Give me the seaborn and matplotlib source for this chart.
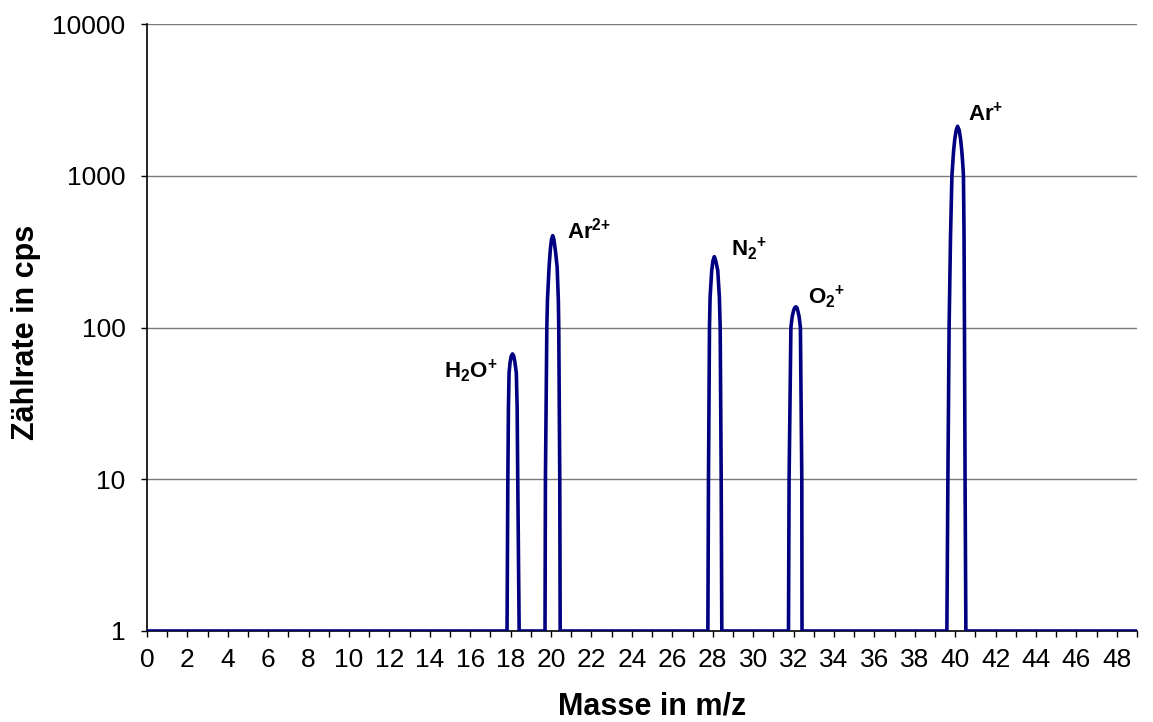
import matplotlib
matplotlib.use("Agg")
import matplotlib.pyplot as plt
import seaborn as sns
import pandas as pd

# Peak profiles (m/z, counts per second)
h2o_mz = [17.82, 17.86, 17.89, 17.92, 17.97, 18.03, 18.09, 18.15, 18.21, 18.28, 18.32, 18.35, 18.42]
h2o_cps = [1, 10, 30, 50, 59, 65, 67, 65, 59, 50, 30, 10, 1]

ar2_mz = [19.70, 19.72, 19.79, 19.82, 19.90, 19.96, 20.02, 20.08, 20.14, 20.22, 20.30, 20.36, 20.38, 20.43, 20.45]
ar2_cps = [1, 10, 100, 151, 250, 324, 380, 403, 380, 316, 250, 151, 100, 10, 1]

n2_mz = [27.76, 27.79, 27.84, 27.87, 27.95, 28.01, 28.08, 28.15, 28.25, 28.33, 28.37, 28.42, 28.45]
n2_cps = [1, 10, 100, 158, 237, 275, 293, 275, 237, 158, 100, 10, 1]

o2_mz = [31.75, 31.78, 31.87, 31.93, 32.00, 32.06, 32.11, 32.17, 32.23, 32.28, 32.34, 32.41, 32.42]
o2_cps = [1, 10, 100, 117, 129, 135, 137, 135, 126, 117, 100, 10, 1]

ar_mz = [39.59, 39.64, 39.70, 39.77, 39.84, 39.92, 39.98, 40.05, 40.12, 40.20, 40.27,
         40.33, 40.38, 40.41, 40.44, 40.46, 40.49, 40.53]
ar_cps = [1, 10, 100, 398, 1000, 1445, 1738, 1995, 2118, 1995, 1738,
          1445, 1175, 1000, 398, 100, 10, 1]

x_range = [0, 49]
y_ticks = [1, 10, 100, 1000, 10000]

labels = ["$\\mathbf{H_2O^{{+}}}$", "$\\mathbf{Ar^{2{+}}}$", "$\\mathbf{N_2{}^{{+}}}$",
          "$\\mathbf{O_2{}^{{+}}}$", "$\\mathbf{Ar^{{+}}}$"]
label_mz = [17.33, 20.79, 28.91, 32.72, 40.64]
label_cps = [47, 385, 298, 144, 2300]
label_ha = ["right", "left", "left", "left", "left"]

mz = [x_range[0]] + h2o_mz + ar2_mz + n2_mz + o2_mz + ar_mz + [x_range[1]]
cps = [1] + h2o_cps + ar2_cps + n2_cps + o2_cps + ar_cps + [1]
df = pd.DataFrame({"mz": mz, "cps": cps})

sns.set_theme(style="white")
plt.rcParams["font.family"] = ["Liberation Sans", "DejaVu Sans"]
plt.rcParams["mathtext.fontset"] = "custom"
plt.rcParams["mathtext.rm"] = "Liberation Sans"
plt.rcParams["mathtext.bf"] = "Liberation Sans:bold"
for k in ["text.color", "axes.labelcolor", "xtick.color", "ytick.color"]:
    plt.rcParams[k] = "black"

fig = plt.figure(figsize=(11.53, 7.22), dpi=100)
ax = fig.add_axes([147 / 1153, 1 - 631 / 722, 990 / 1153, 607 / 722])

ax.set_yscale("log")
ax.set_ylim(1, 10000)
ax.set_xlim(x_range[0], x_range[1])

for t in y_ticks[1:]:
    ax.axhline(t, color="#7a7a7a", lw=1.0, zorder=1)

sns.lineplot(data=df, x="mz", y="cps", ax=ax, sort=False, estimator=None,
             color="#000080", lw=2.6, zorder=3, solid_joinstyle="round")
ax.set_ylim(1, 10000)
ax.set_xlim(x_range[0], x_range[1])

for txt, x, y, ha in zip(labels, label_mz, label_cps, label_ha):
    ax.text(x, y, txt, ha=ha, va="baseline", fontsize=16, color="black")

ax.set_yticks(y_ticks)
ax.set_yticklabels([str(t) for t in y_ticks])
ax.yaxis.set_minor_locator(matplotlib.ticker.NullLocator())
xt = list(range(x_range[0], x_range[1] + 1))
ax.set_xticks(xt)
ax.set_xticklabels([str(i) if i % 2 == 0 else "" for i in xt])

ax.tick_params(axis="both", which="major", direction="out", length=4.5,
               width=1, color="black", labelsize=19, labelcolor="black",
               bottom=True, left=True)
ax.tick_params(axis="x", pad=8)
ax.tick_params(axis="y", pad=11)

for s in ["top", "right"]:
    ax.spines[s].set_visible(False)
for s in ["left", "bottom"]:
    ax.spines[s].set_color("black")
    ax.spines[s].set_linewidth(1.2)

ax.set_xlabel("Masse in m/z", fontsize=22, fontweight="bold")
ax.set_ylabel("Zählrate in cps", fontsize=22, fontweight="bold")
ax.xaxis.set_label_coords(0.51, -0.1)
ax.yaxis.set_label_coords(-0.107, 0.492)

fig.savefig("out.png", dpi=100)
